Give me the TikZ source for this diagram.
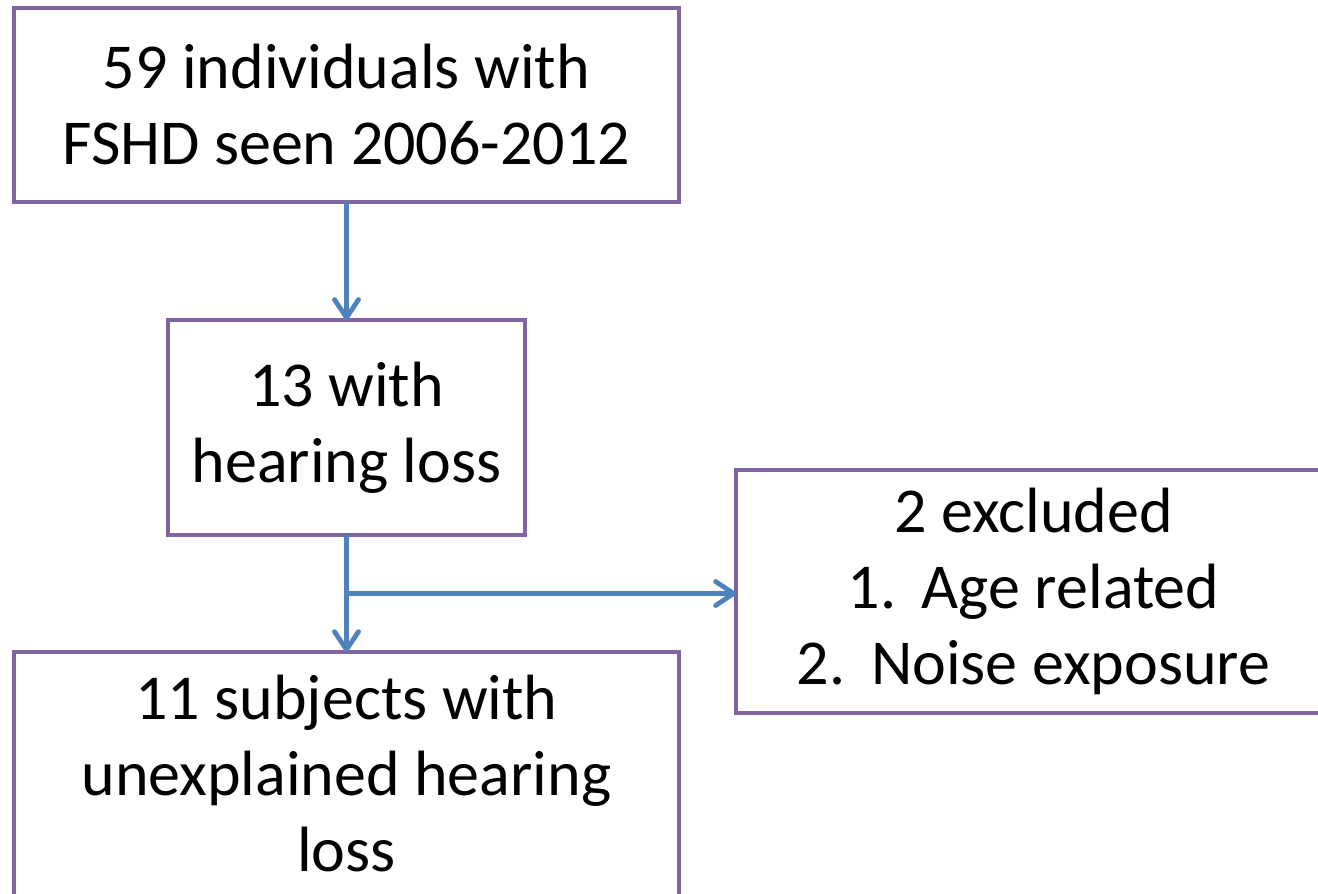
\documentclass[tikz,border=0pt]{standalone}
\usepackage{fontspec}
\setmainfont{Carlito}
\usepackage{tikz}
\usetikzlibrary{arrows.meta,positioning}

\definecolor{boxpurple}{HTML}{8064A2}
\definecolor{arrowblue}{HTML}{4F81BD}
\newcommand\linestrut{\rule[-1pt]{0pt}{38pt}}

\begin{document}
\begin{tikzpicture}[x=0.5pt,
            y=-0.5pt,
            >={Straight Barb[length=9pt,width=12pt,line cap=round,line join=round]},
            box/.style={draw=boxpurple,
                        line width=2.4pt,
                        align=center,
                        inner sep=0pt,
                        outer sep=0pt,
                        execute at begin node=\linestrut,
                        execute at end node=\linestrut,
                        font=\fontsize{32pt}{38pt}\selectfont},
            flow/.style={->,
                        draw=arrowblue,
                        line width=2.4pt}]

        \clip (0,0) rectangle (1318,894);

        \node[box,minimum width=332.5pt,minimum height=97pt]    (fshd)  at (346.5,105)         {59 individuals with\\FSHD seen 2006-2012};
        \node[box,minimum width=178.5pt,minimum height=107.5pt] (hear)  [below=59pt of fshd]   {13 with\\hearing loss};
        \node[box,minimum width=332.5pt,minimum height=122.5pt] (study) [below=58.5pt of hear] {11 subjects with\\unexplained hearing\\loss};
        \node[box,minimum width=297.5pt,minimum height=121.5pt] (excl)  [right=105.5pt of hear,yshift=-82pt]
              {2 excluded\\1.\hspace{0.4em}Age related\\2.\hspace{0.4em}Noise exposure};

        \path (hear.south) -- (study.north) coordinate[pos=0.5] (split);

        \draw[flow] (fshd)  -- (hear);
        \draw[flow] (hear)  -- (study);
        \draw[flow] (split) -- (split -| excl.west);

    \end{tikzpicture}
\end{document}
